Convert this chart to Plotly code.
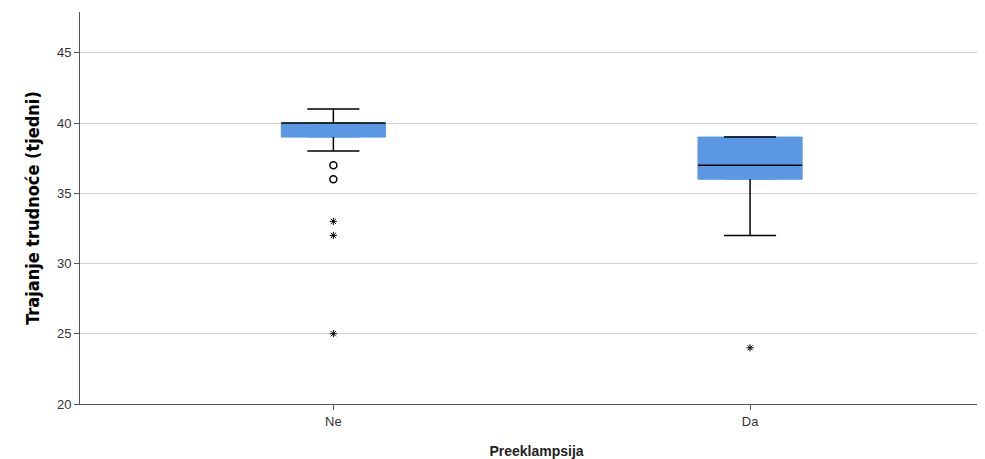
import plotly.graph_objects as go

groups = ["Ne", "Da"]
q1 = [39, 36]
median = [40, 37]
q3 = [40, 39]
lower_whisker = [38, 32]
upper_whisker = [41, 39]
mild_outliers = [[37, 36], []]
extreme_outliers = [[33, 32, 25], [24]]

BLUE = "#5A98E4"
box_half = 0.125
cap_half = 0.0625

fig = go.Figure()

xs = list(range(len(groups)))
fig.add_trace(go.Box(
    x=xs, q1=q1, median=median, q3=q3,
    lowerfence=q1, upperfence=q3,
    fillcolor=BLUE, line=dict(color=BLUE, width=1),
    width=2 * box_half, showlegend=False, hoverinfo="skip",
))

# whiskers, caps and median lines
lx, ly = [], []
for i in xs:
    lx += [i, i, None, i, i, None]
    ly += [q1[i], lower_whisker[i], None, q3[i], upper_whisker[i], None]
    lx += [i - cap_half, i + cap_half, None, i - cap_half, i + cap_half, None]
    ly += [lower_whisker[i], lower_whisker[i], None, upper_whisker[i], upper_whisker[i], None]
    lx += [i - box_half, i + box_half, None]
    ly += [median[i], median[i], None]
fig.add_trace(go.Scatter(x=lx, y=ly, mode="lines", line=dict(color="black", width=1.5),
                         showlegend=False, hoverinfo="skip"))

ox, oy = [], []
for i in xs:
    ox += [i] * len(mild_outliers[i])
    oy += mild_outliers[i]
fig.add_trace(go.Scatter(x=ox, y=oy, mode="markers", showlegend=False,
                         marker=dict(symbol="circle-open", size=7, color="black",
                                     line=dict(width=1.5))))
ex, ey = [], []
for i in xs:
    ex += [i] * len(extreme_outliers[i])
    ey += extreme_outliers[i]
fig.add_trace(go.Scatter(x=ex, y=ey, mode="markers", showlegend=False,
                         marker=dict(symbol="asterisk-open", size=6, color="black",
                                     line=dict(width=1, color="black"))))

fig.update_layout(
    width=985, height=459,
    margin=dict(l=72, r=0, t=4, b=63),
    plot_bgcolor="white", paper_bgcolor="white",
    font=dict(family="Liberation Sans, Arial, sans-serif", size=13, color="#333"),
)
fig.update_xaxes(
    range=[-0.608, 1.583], tickvals=xs, ticktext=groups, showgrid=False,
    showline=True, linecolor="#555", linewidth=1, ticks="outside", ticklen=5,
    tickcolor="#555", zeroline=False, automargin=False,
    title=dict(text="<b>Preeklampsija</b>", font=dict(size=14, color="#222"), standoff=18),
)
fig.update_yaxes(
    range=[20, 47.9], tickvals=[20, 25, 30, 35, 40, 45], showgrid=True,
    gridcolor="#cfcfcf", showline=True, linecolor="#555", linewidth=1,
    ticks="outside", ticklen=5, tickcolor="#555", zeroline=False, automargin=False,
    title=dict(text="<b>Trajanje trudnoće (tjedni)</b>",
               font=dict(family="DejaVu Sans Condensed, sans-serif",
                         size=18, color="black"), standoff=12),
)

fig.write_html("out.html")
